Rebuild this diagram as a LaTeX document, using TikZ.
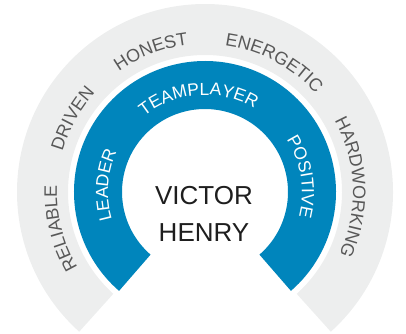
\documentclass[tikz,border=0pt]{standalone}
\usepackage{fontspec}
\setmainfont{Liberation Sans}
\usetikzlibrary{decorations.text}
\definecolor{ringgray}{HTML}{EDEEEE}
\definecolor{ringblue}{HTML}{0085BC}
\definecolor{wordgray}{HTML}{585858}
\definecolor{namecol}{HTML}{1E1E1E}
\newcommand\arcword[4]{%
  \path[decorate, decoration={text along path, text align=center, text={|#3|#4}}]
    (#2+45:#1) arc[start angle=#2+45, end angle=#2-45, radius=#1];}
\newcommand\grayfmt{\fontsize{18}{18}\selectfont\color{wordgray}}
\newcommand\bluefmt{\fontsize{17.5}{17.5}\selectfont\color{white}}
\tikzset{
  outerring/.style={fill=ringgray},
  innerring/.style={fill=ringblue},
  namelabel/.style={align=center, text=namecol, font=\fontsize{26}{37}\selectfont}
}
\begin{document}
\begin{tikzpicture}
\useasboundingbox (0,0) rectangle (406pt,333pt);
\begin{scope}[shift={(205pt,141pt)}]
  \fill[outerring] (228:188pt) arc[start angle=228, end angle=-48, radius=188pt]
    -- (-48:137pt) arc[start angle=-48, end angle=228, radius=137pt] -- cycle;
  \fill[innerring] (229:131pt) arc[start angle=229, end angle=-49, radius=131pt]
    -- (-49:83pt) arc[start angle=-49, end angle=229, radius=83pt] -- cycle;
  \arcword{148pt}{194}{\grayfmt}{RELIABLE}
  \arcword{148pt}{151}{\grayfmt}{DRIVEN}
  \arcword{148pt}{111}{\grayfmt}{HONEST}
  \arcword{148pt}{62}{\grayfmt}{ENERGETIC}
  \arcword{148pt}{2}{\grayfmt}{HARDWORKING}
  \arcword{97pt}{176}{\bluefmt}{LEADER}
  \arcword{97pt}{94}{\bluefmt}{TEAMPLAYER}
  \arcword{97pt}{9}{\bluefmt}{POSITIVE}
  \node[namelabel] (name) at (-1pt,-22pt) {VICTOR\\HENRY};
\end{scope}
\end{tikzpicture}
\end{document}
